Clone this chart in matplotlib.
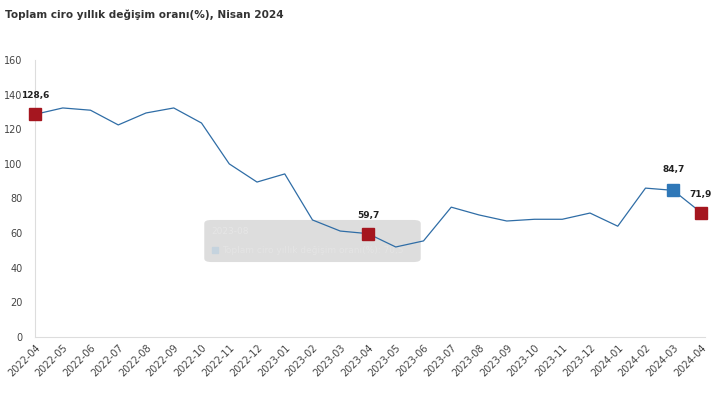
import matplotlib.pyplot as plt
from matplotlib.patches import FancyBboxPatch

months = ['2022-04', '2022-05', '2022-06', '2022-07', '2022-08', '2022-09', '2022-10',
          '2022-11', '2022-12', '2023-01', '2023-02', '2023-03', '2023-04', '2023-05',
          '2023-06', '2023-07', '2023-08', '2023-09', '2023-10', '2023-11', '2023-12',
          '2024-01', '2024-02', '2024-03', '2024-04']
values = [128.6, 132.3, 131.0, 122.5, 129.4, 132.3, 123.6, 100.0, 89.5, 94.2, 67.6, 61.2,
          59.7, 52.0, 55.5, 75.0, 70.5, 67.0, 68.0, 68.0, 71.6, 64.0, 86.0, 84.7, 71.9]
red_marks = ['2022-04', '2023-04', '2024-04']
blue_marks = ['2024-03']
yticks = [0, 20, 40, 60, 80, 100, 120, 140, 160]

x = list(range(len(months)))

fig = plt.figure(figsize=(7.26, 3.95), dpi=100)
ax = fig.add_axes([35 / 726, 1 - 337 / 395, 666 / 726, 277 / 395])

ax.plot(x, values, color='#2f6da6', lw=0.9, zorder=4)

for m in red_marks:
    i = months.index(m)
    ax.plot(i, values[i], 's', ms=8, color='#a5161f', zorder=5, clip_on=False)
for m in blue_marks:
    i = months.index(m)
    ax.plot(i, values[i], 's', ms=8, color='#2f78b8', zorder=5, clip_on=False)

# labels above highlighted points
for m in red_marks + blue_marks:
    i = months.index(m)
    txt = ('%.1f' % values[i]).replace('.', ',')
    dy = 10
    if m == '2024-03':
        dy = 12
    ax.annotate(txt, (i, values[i]), xytext=(0, dy), textcoords='offset points',
                ha='center', va='bottom', fontsize=6.5, fontweight='bold', color='#222222',
                zorder=6, annotation_clip=False)

# faded tooltip left over from the screenshot
box = FancyBboxPatch((6.1, 43.3), 7.8, 24.3, boxstyle='round,pad=0,rounding_size=0.25',
                     facecolor='#dadada', edgecolor='none', alpha=0.9, zorder=3,
                     mutation_aspect=8)
ax.add_patch(box)
ax.text(6.35, 61, '2023-08', fontsize=6.5, color='#e6e6e6', va='center', zorder=3.5)
ax.plot(6.5, 50, 's', ms=5, color='#c5d3de', zorder=3.5)
ax.text(6.75, 50, 'Toplam ciro yıllık değişim oranı(%): 70,5', fontsize=6.5, color='#e4e4e4',
        va='center', zorder=3.5)

ax.set_xlim(0, len(months) - 1)
ax.set_ylim(0, 160)
ax.set_yticks(yticks)
ax.set_yticklabels([str(t) for t in yticks], fontsize=7, color='#444444')
ax.set_xticks(x)
ax.set_xticklabels(months, rotation=45, ha='right', rotation_mode='anchor', fontsize=7, color='#444444')
ax.tick_params(length=0)
ax.tick_params(axis='y', pad=9)
ax.tick_params(axis='x', pad=4)

for s in ['top', 'right']:
    ax.spines[s].set_visible(False)
for s in ['left', 'bottom']:
    ax.spines[s].set_color('#dddddd')
    ax.spines[s].set_linewidth(0.8)
ax.spines['bottom'].set_bounds(0, len(months) - 0.85)

fig.text(5 / 726, 1 - 15 / 395, 'Toplam ciro yıllık değişim oranı(%), Nisan 2024',
         fontsize=7.6, fontweight='bold', color='#333333', va='center', ha='left')

fig.savefig('out.png', dpi=100)
